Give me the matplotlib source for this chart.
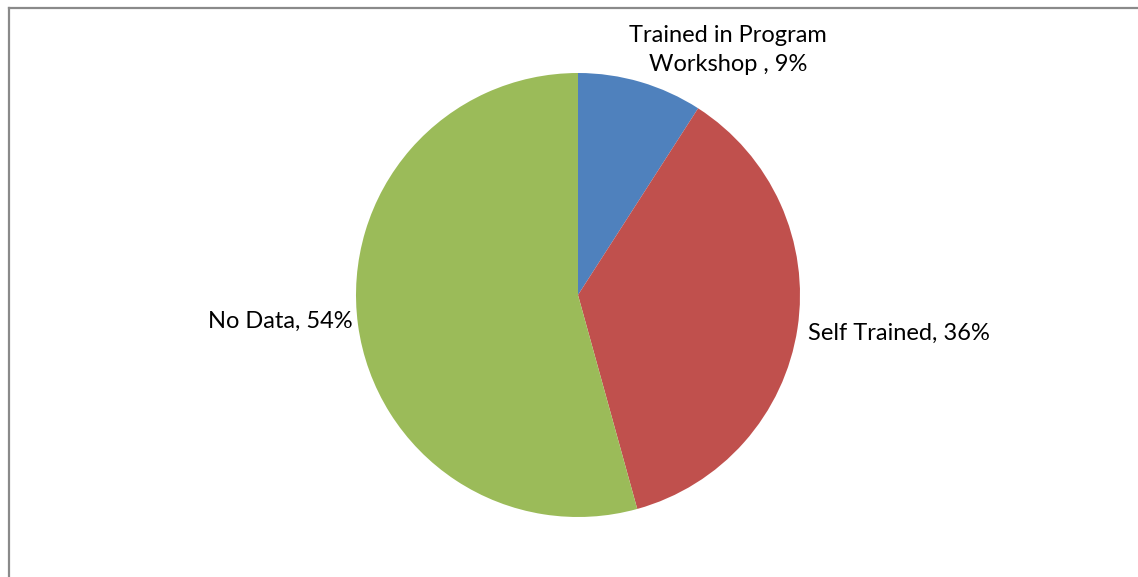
import matplotlib.pyplot as plt
from matplotlib.lines import Line2D

# Data
labels = ['Trained in Program\nWorkshop , 9%', 'Self Trained, 36%', 'No Data, 54%']
shares = [9.1, 36.6, 54.3]
colors = ['#4F81BD', '#C0504D', '#9BBB59']

W, H = 1138, 577
cx, cy, r = 578, 295, 222

fig = plt.figure(figsize=(W / 100, H / 100), dpi=100)
ax = fig.add_axes([0, 0, 1, 1])

ax.pie(shares, colors=colors, startangle=90, counterclock=False,
       radius=1, center=(0, 0), frame=True)

# map pixels to data units (radius = 1)
ax.set_xlim(-cx / r, (W - cx) / r)
ax.set_ylim(-(H - cy) / r, cy / r)
ax.set_aspect('auto')
ax.axis('off')

plt.rcParams['font.family'] = ['Lato', 'DejaVu Sans']
fs = 17
ax.text(150 / r, 245 / r, labels[0], ha='center', va='center',
        fontsize=fs, linespacing=1.45, color='black')
ax.text(230 / r, -38 / r, labels[1], ha='left', va='center',
        fontsize=fs, color='black')
ax.text(-225 / r, -26 / r, labels[2], ha='right', va='center',
        fontsize=fs, color='black')

# chart border (top and left visible)
fig.add_artist(Line2D([9 / W, 9 / W], [0, 1 - 8 / H], transform=fig.transFigure,
                      color='#8a8a8a', linewidth=1.6))
fig.add_artist(Line2D([9 / W, 1], [1 - 8 / H, 1 - 8 / H], transform=fig.transFigure,
                      color='#8a8a8a', linewidth=1.6))

fig.savefig('out.png', dpi=100)
